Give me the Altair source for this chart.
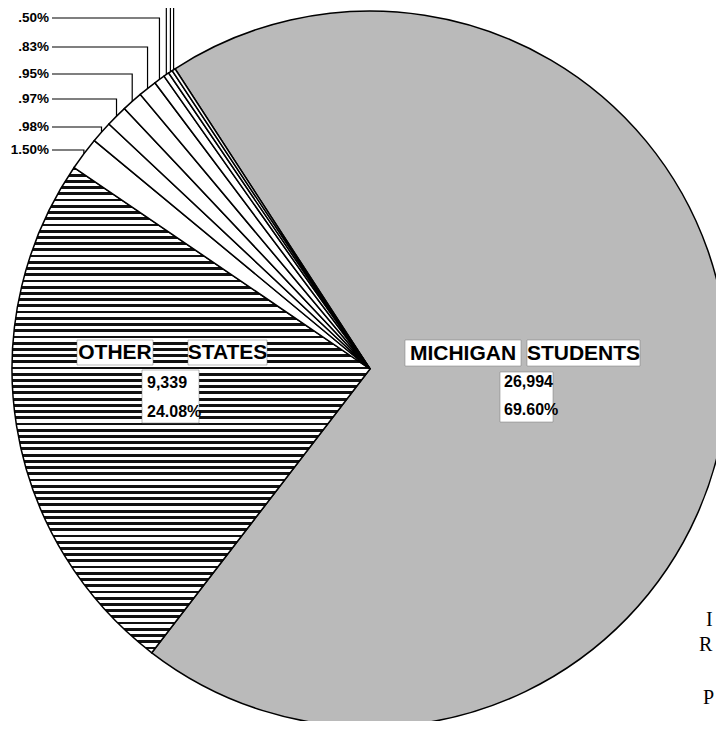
import math
import altair as alt
import pandas as pd

# ---------------- data ----------------
slice_names = ["MICHIGAN STUDENTS", "OTHER STATES", "s150", "s098", "s097",
               "s095", "s083", "s050", "sA", "sB", "sC"]
slice_pcts = [69.60, 24.08, 1.50, 0.98, 0.97, 0.95, 0.83, 0.50, 0.25, 0.19, 0.15]
small_labels = ["1.50%", ".98%", ".97%", ".95%", ".83%", ".50%", "", "", ""]
michigan_words = ["MICHIGAN", "STUDENTS"]
other_words = ["OTHER", "STATES"]
michigan_nums = ["26,994", "69.60%"]
other_nums = ["9,339", "24.08%"]
side_letters = ["I", "R", "P"]

# ---------------- layout ----------------
W, H = 708, 713
CX, CY, R = 362, 361, 358
START_DEG = 327.0
a0 = math.radians(START_DEG)
label_y = [142, 119, 91, 66, 39, 10, -15, -40, -65]
LABEL_X = 41
LINE_X0 = 44

df = pd.DataFrame({"name": slice_names, "pct": slice_pcts,
                   "idx": list(range(len(slice_names)))})

# horizontal hatching for "other states"
n_str, frac = 78, 0.45
stops = []
for i in range(n_str):
    o0, o1, o2 = i / n_str, (i + frac) / n_str, (i + 1) / n_str
    stops += [{"offset": o0, "color": "#111111"}, {"offset": o1, "color": "#111111"},
              {"offset": o1, "color": "white"}, {"offset": o2, "color": "white"}]
stripes = {"gradient": "linear", "x1": 0, "y1": 0, "x2": 0, "y2": 1, "stops": stops}

fill_def = {"condition": [
    {"test": "datum.name === 'OTHER STATES'", "value": stripes},
    {"test": "datum.name === 'MICHIGAN STUDENTS'", "value": "#bababa"}],
    "value": "white"}

pie = alt.Chart(df).mark_arc(radius=R, stroke="black", strokeWidth=1.5).encode(
    theta=alt.Theta("pct:Q", stack=True,
                    scale=alt.Scale(range=[a0, a0 + 2 * math.pi])),
    order=alt.Order("idx:Q"),
    x=alt.value(CX), y=alt.value(CY),
    fill=fill_def,
)

# leader lines from the slice values
rows, lab_rows = [], []
cum = 0.0
for i, (nm, p) in enumerate(zip(slice_names, slice_pcts)):
    if i >= 2:
        k = i - 2
        ang = a0 + 2 * math.pi * (cum + p / 2) / 100.0
        px = CX + R * math.sin(ang)
        py = CY - R * math.cos(ang)
        ly = label_y[k]
        rows += [{"g": nm, "o": 0, "x": LINE_X0, "y": ly},
                 {"g": nm, "o": 1, "x": px, "y": ly},
                 {"g": nm, "o": 2, "x": px, "y": py}]
        if small_labels[k]:
            lab_rows.append({"t": small_labels[k], "x": LABEL_X, "y": ly})
    cum += p
lines_df = pd.DataFrame(rows)
labs_df = pd.DataFrame(lab_rows)

leaders = alt.Chart(lines_df).mark_line(color="black", strokeWidth=1.2).encode(
    x=alt.X("x:Q", scale=None), y=alt.Y("y:Q", scale=None),
    detail="g:N", order="o:Q")

small_txt = alt.Chart(labs_df).mark_text(
    align="right", baseline="middle", fontSize=13.5, fontWeight="bold",
    font="Liberation Sans", color="black").encode(
    x=alt.X("x:Q", scale=None), y=alt.Y("y:Q", scale=None), text="t:N")

boxes_df = pd.DataFrame({
    "x0": [397, 519, 492, 69, 180, 134],
    "x1": [513, 632, 545, 145, 259, 191],
    "y0": [332, 332, 364, 332, 332, 362],
    "y1": [358, 358, 414, 357, 357, 415]})
boxes = alt.Chart(boxes_df).mark_rect(fill="white", stroke="#777777", strokeWidth=0.5).encode(
    x=alt.X("x0:Q", scale=None), x2="x1", y=alt.Y("y0:Q", scale=None), y2="y1")

big_df = pd.DataFrame({"t": michigan_words + other_words,
                       "x": [455, 575.5, 107, 219.5], "y": [346, 346, 345, 345]})
big_txt = alt.Chart(big_df).mark_text(
    align="center", baseline="middle", fontSize=21, fontWeight="bold",
    font="Liberation Sans", color="black").encode(
    x=alt.X("x:Q", scale=None), y=alt.Y("y:Q", scale=None), text="t:N")

num_df = pd.DataFrame({"t": michigan_nums + other_nums,
                       "x": [496, 496, 139, 139], "y": [374, 402, 375, 404]})
num_txt = alt.Chart(num_df).mark_text(
    align="left", baseline="middle", fontSize=16, fontWeight="bold",
    font="Liberation Sans", color="black").encode(
    x=alt.X("x:Q", scale=None), y=alt.Y("y:Q", scale=None), text="t:N")

side_df = pd.DataFrame({"t": side_letters, "x": [698, 691, 695], "y": [612, 637, 690]})
side_txt = alt.Chart(side_df).mark_text(
    align="left", baseline="middle", fontSize=20,
    font="Liberation Serif", color="black").encode(
    x=alt.X("x:Q", scale=None), y=alt.Y("y:Q", scale=None), text="t:N")

chart = alt.layer(pie, leaders, small_txt, boxes, big_txt, num_txt, side_txt).properties(
    width=W, height=H, padding=0, autosize=alt.AutoSizeParams(type="none"),
    background="white"
).configure_view(stroke=None)

chart.save("out.html", embed_options={"renderer": "svg", "actions": False})
